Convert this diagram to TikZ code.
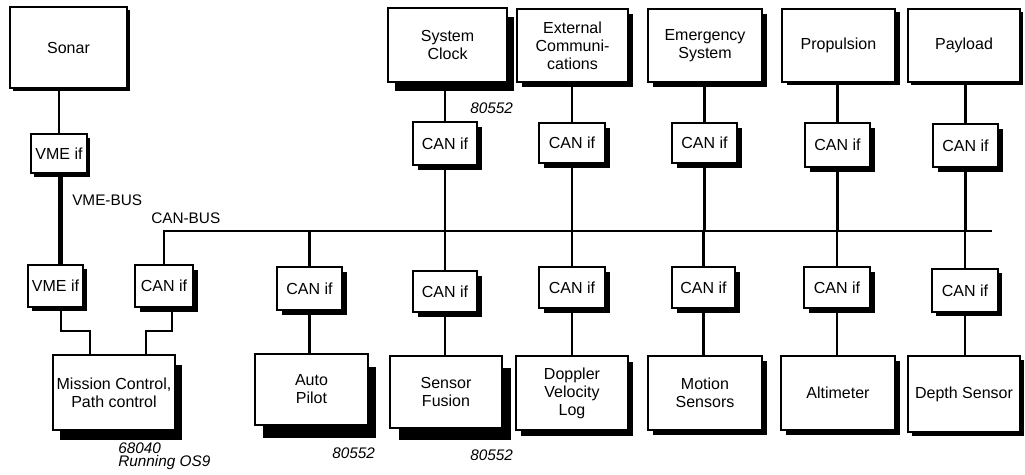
\documentclass[tikz,border=0pt]{standalone}
\usepackage{fontspec}
\setmainfont{Liberation Sans}
\usetikzlibrary{shadows}
\tikzset{
  box/.style={draw=black,line width=1.3pt,fill=white,align=center,inner sep=1pt},
  shd/.style={fill=black,opacity=1},
  wire/.style={line width=1.6pt},
  vmebus/.style={line width=4pt},
  lab/.style={inner sep=0pt,anchor=west,font=\fontsize{11.5}{13}\selectfont\itshape},
  buslab/.style={inner sep=0pt,anchor=west,font=\fontsize{11.5}{13}\selectfont}
}
\begin{document}
\begin{tikzpicture}[x=0.75pt,y=-0.75pt,font=\fontsize{12}{13.5}\selectfont]
\useasboundingbox (0,0) rectangle (1025,475);
% top row
\node[box,minimum width=87.75pt,minimum height=60.75pt,drop shadow={shd,shadow xshift=2.5pt,shadow yshift=-2.5pt}] (sonar) at (68.5,47.5) {Sonar};
\node[box,minimum width=89.25pt,minimum height=55.5pt,drop shadow={shd,shadow xshift=5pt,shadow yshift=-7pt}] (clock) at (447.5,45) {System\\Clock};
\node[box,minimum width=83.25pt,minimum height=54.75pt,drop shadow={shd,shadow xshift=4pt,shadow yshift=-4pt}] (ext) at (572.5,45.5) {External\\Communi-\\cations};
\node[box,minimum width=85.5pt,minimum height=54.75pt,drop shadow={shd,shadow xshift=3.5pt,shadow yshift=-3.5pt}] (emerg) at (705,45.5) {Emergency\\System};
\node[box,minimum width=84.75pt,minimum height=54.75pt,drop shadow={shd,shadow xshift=3.5pt,shadow yshift=-2.5pt}] (prop) at (838.5,45.5) {Propulsion};
\node[box,minimum width=84pt,minimum height=54.75pt,drop shadow={shd,shadow xshift=2.5pt,shadow yshift=-2.5pt}] (pay) at (964,45.5) {Payload};
% upper interfaces
\node[box,minimum width=42pt,minimum height=29.25pt,drop shadow={shd,shadow xshift=2.5pt,shadow yshift=-3pt}] (vme1) at (59,153.5) {VME if};
\node[box,minimum width=48pt,minimum height=32.25pt,drop shadow={shd,shadow xshift=3.5pt,shadow yshift=-3.5pt}] (canCk) at (445,143.5) {CAN if};
\node[box,minimum width=49.5pt,minimum height=30pt,drop shadow={shd,shadow xshift=3.5pt,shadow yshift=-3.5pt}] (canExt) at (572,143) {CAN if};
\node[box,minimum width=48.75pt,minimum height=30pt,drop shadow={shd,shadow xshift=3.5pt,shadow yshift=-3.5pt}] (canEm) at (704.5,143) {CAN if};
\node[box,minimum width=48.75pt,minimum height=33pt,drop shadow={shd,shadow xshift=3.5pt,shadow yshift=-3.5pt}] (canPr) at (837.5,145) {CAN if};
\node[box,minimum width=48.75pt,minimum height=32.25pt,drop shadow={shd,shadow xshift=3.5pt,shadow yshift=-3.5pt}] (canPay) at (965.5,145.5) {CAN if};
% lower interfaces
\node[box,minimum width=41.25pt,minimum height=31.5pt,drop shadow={shd,shadow xshift=3pt,shadow yshift=-3pt}] (vme2) at (55.5,286) {VME if};
\node[box,minimum width=43.5pt,minimum height=31.5pt,drop shadow={shd,shadow xshift=3.5pt,shadow yshift=-3.5pt}] (canMC) at (164,286) {CAN if};
\node[box,minimum width=48.75pt,minimum height=32.25pt,drop shadow={shd,shadow xshift=4pt,shadow yshift=-4pt}] (canAP) at (309.5,288.5) {CAN if};
\node[box,minimum width=48pt,minimum height=30.75pt,drop shadow={shd,shadow xshift=4pt,shadow yshift=-4pt}] (canSF) at (445,291.5) {CAN if};
\node[box,minimum width=49.5pt,minimum height=30.75pt,drop shadow={shd,shadow xshift=3.5pt,shadow yshift=-3.5pt}] (canDop) at (572,287.5) {CAN if};
\node[box,minimum width=47.25pt,minimum height=30.75pt,drop shadow={shd,shadow xshift=3.5pt,shadow yshift=-3.5pt}] (canMo) at (703.5,287.5) {CAN if};
\node[box,minimum width=49.5pt,minimum height=30.75pt,drop shadow={shd,shadow xshift=3.5pt,shadow yshift=-3.5pt}] (canAl) at (837,287.5) {CAN if};
\node[box,minimum width=49.5pt,minimum height=32.25pt,drop shadow={shd,shadow xshift=3pt,shadow yshift=-3pt}] (canDe) at (965,290.5) {CAN if};
% bottom row
\node[box,minimum width=91.5pt,minimum height=56.25pt,drop shadow={shd,shadow xshift=5.5pt,shadow yshift=-7.5pt}] (mission) at (114,392.5) {Mission Control,\\Path control};
\node[box,minimum width=84.75pt,minimum height=53.25pt,drop shadow={shd,shadow xshift=6pt,shadow yshift=-9.5pt}] (auto) at (311.5,389.5) {Auto\\Pilot};
\node[box,minimum width=84pt,minimum height=54pt,drop shadow={shd,shadow xshift=7pt,shadow yshift=-9pt}] (sf) at (446,392) {Sensor\\Fusion};
\node[box,minimum width=84pt,minimum height=55.5pt,drop shadow={shd,shadow xshift=4pt,shadow yshift=-4.5pt}] (dop) at (572,393) {Doppler\\Velocity\\Log};
\node[box,minimum width=85.5pt,minimum height=55.5pt,drop shadow={shd,shadow xshift=4pt,shadow yshift=-4pt}] (motion) at (705,393) {Motion\\Sensors};
\node[box,minimum width=85.5pt,minimum height=55.5pt,drop shadow={shd,shadow xshift=4pt,shadow yshift=-4pt}] (alt) at (838,393) {Altimeter};
\node[box,minimum width=84pt,minimum height=57pt,drop shadow={shd,shadow xshift=3pt,shadow yshift=-3pt}] (depth) at (964,394) {Depth Sensor};
% bus
\coordinate (busR) at (992,231);
\draw[wire] (canMC.north) |- (busR);
% upper connections
\draw[wire] (vme1.north) -- (vme1.north |- sonar.south);
\draw[vmebus] ([xshift=1pt]vme1.south) -- ([xshift=1pt]vme1.south |- vme2.north);
\foreach \c/\b in {canCk/clock,canExt/ext,canEm/emerg,canPr/prop,canPay/pay}{
  \draw[wire] (\c.north) -- (\c.north |- \b.south);
  \draw[wire] (\c.south) -- (\c.south |- busR);
}
\foreach \c/\b in {canAP/auto,canSF/sf,canDop/dop,canMo/motion,canAl/alt,canDe/depth}{
  \draw[wire] (\c.north) -- (\c.north |- busR);
  \draw[wire] (\c.south) -- (\c.south |- \b.north);
}
% mission control links
\draw[wire] ([xshift=4pt]vme2.south) -- ++(0,23) -| ([xshift=-18pt]mission.north);
\draw[wire] ([xshift=6pt]canMC.south) -- ++(0,23) -| ([xshift=24pt]mission.north);
% labels
\node[buslab] (vmelab) at (72,200) {VME-BUS};
\node[buslab] (canlab) at (151,218) {CAN-BUS};
\node[lab] (l1) at (470,108) {80552};
\node[lab] (l2) at (118,448) {68040};
\node[lab] (l3) at (118,463) {Running OS9};
\node[lab] (l4) at (332,453) {80552};
\node[lab] (l5) at (470,455) {80552};
\end{tikzpicture}
\end{document}
